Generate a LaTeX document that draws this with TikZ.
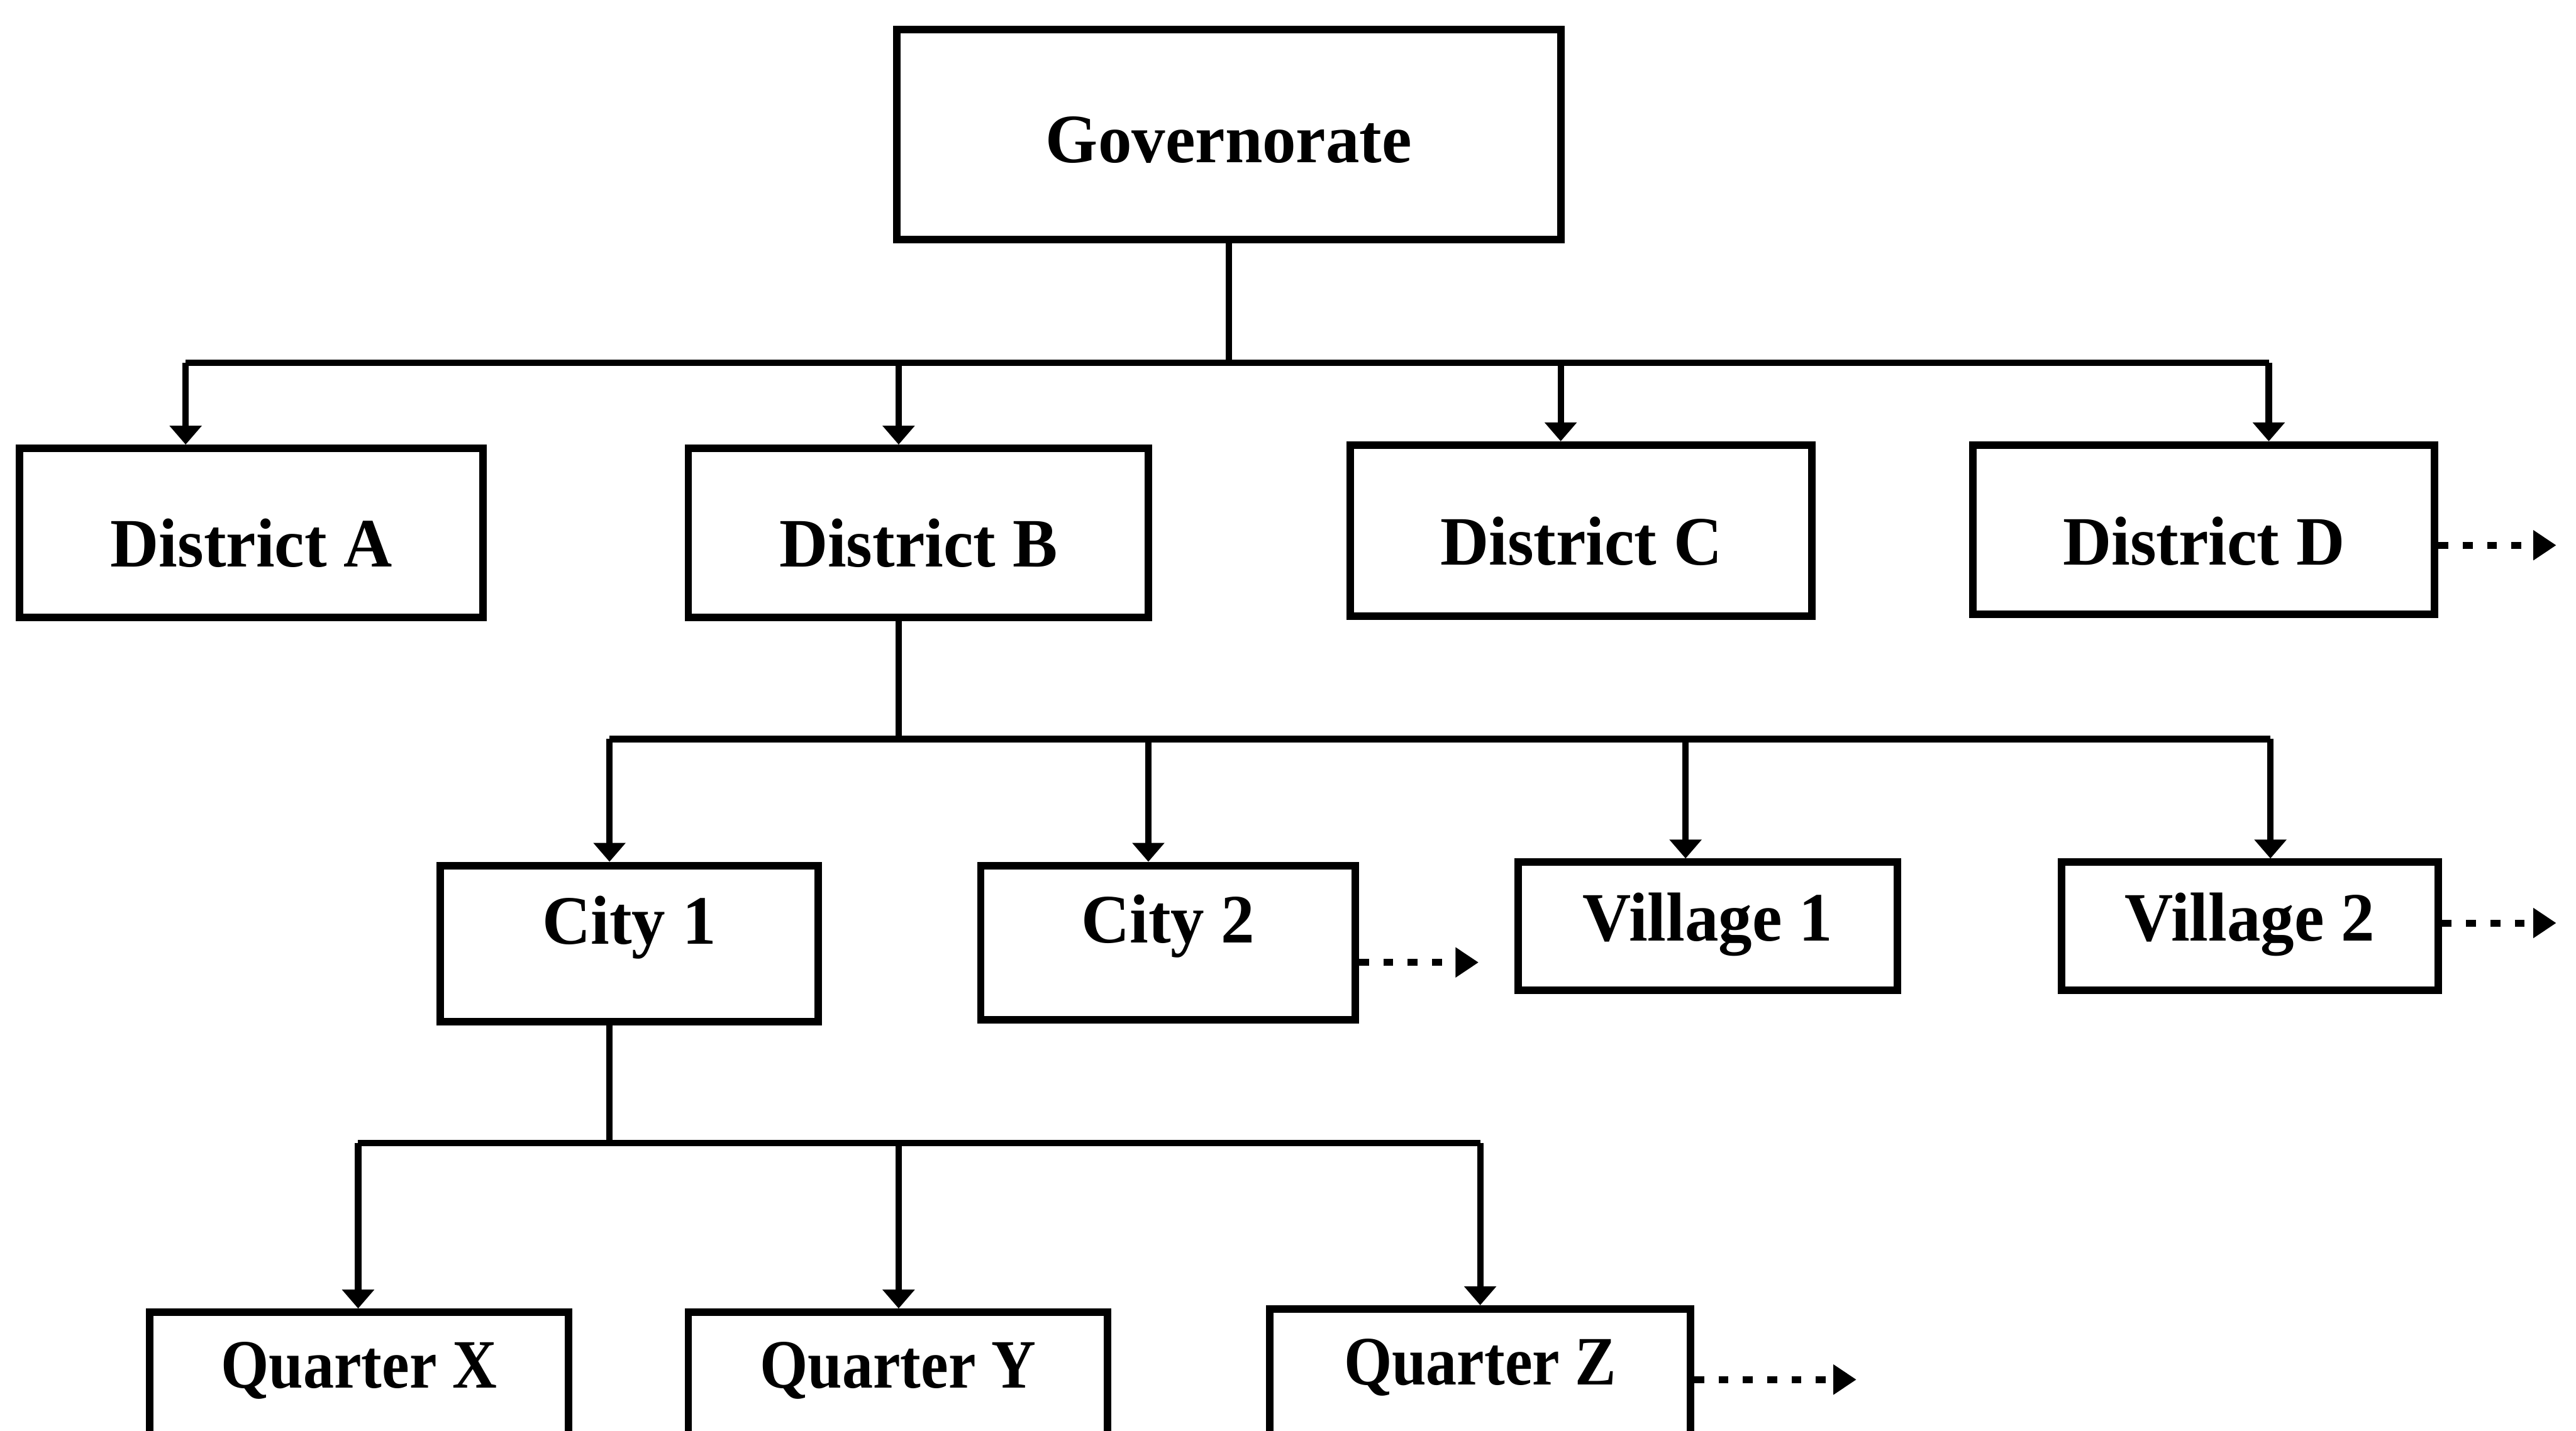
\documentclass[tikz,border=0pt]{standalone}
\usepackage{fontspec}
\setmainfont{Liberation Serif}[FakeStretch=0.97]
\newfontfamily\narrowfont{Liberation Serif}[FakeStretch=0.89]
\usetikzlibrary{arrows.meta}

\tikzset{
  orgbox/.style={draw=black, line width=1.3pt, fill=white, inner sep=0pt},
  boxtext/.style={anchor=base, inner sep=0pt, font=\fontsize{12}{14}\selectfont\bfseries},
  qtext/.style={anchor=base, inner sep=0pt, font=\fontsize{12}{14}\selectfont\narrowfont\bfseries},
  link/.style={draw=black, line width=1.1pt},
  down/.style={link, -{Triangle[length=0.115cm, width=0.19cm]}},
  more/.style={draw=black, line width=1.2pt, dash pattern=on 0.06cm off 0.088cm,
               -{Triangle[length=0.14cm, width=0.175cm]}}
}

% box from corner (x1,y1) to (x2,y2); label on baseline y
\newcommand{\unitbox}[8]{%
  \pgfmathsetmacro{\bw}{(#4-#2)*0.01}%
  \pgfmathsetmacro{\bh}{(#5-#3)*0.01}%
  \node[orgbox, minimum width=\bw cm, minimum height=\bh cm] (#1) at ({(#2+#4)/2},{(#3+#5)/2}) {};
  \node[#8] (#1-t) at ({(#2+#4)/2},#6) {#7};
}

\begin{document}
\begin{tikzpicture}[x=0.01cm, y=-0.01cm]
\useasboundingbox (0,0) rectangle (1568,871);
\clip (0,0) rectangle (1568,871);

% top level
\unitbox{gov}{546}{18}{950}{146}{99}{Governorate}{boxtext}

% districts
\unitbox{dA}{12}{273}{294}{376}{345}{District A}{boxtext}
\unitbox{dB}{419}{273}{699}{376}{345}{District B}{boxtext}
\unitbox{dC}{822}{271}{1103}{375}{344}{District C}{boxtext}
\unitbox{dD}{1201}{271}{1482}{374}{344}{District D}{boxtext}

% cities and villages
\unitbox{c1}{268}{527}{498}{622}{575}{City 1}{boxtext}
\unitbox{c2}{597}{527}{825}{621}{574}{City 2}{boxtext}
\unitbox{v1}{924}{525}{1155}{603}{573}{Village 1}{boxtext}
\unitbox{v2}{1255}{525}{1484}{603}{573}{Village 2}{boxtext}

% quarters
\unitbox{qX}{91}{799}{346}{905}{845}{Quarter X}{qtext}
\unitbox{qY}{419}{799}{674}{905}{845}{Quarter Y}{qtext}
\unitbox{qZ}{773}{797}{1029}{905}{843}{Quarter Z}{qtext}

% governorate to districts
\coordinate (g1) at (113,221);
\coordinate (g2) at (547,221);
\coordinate (g3) at (950,221);
\coordinate (g4) at (1381,221);
\coordinate (gm) at (748,221);
\draw[link] (gov.south) -- (gm);
\draw[link] (g1) -- (g4);
\draw[down] (g1) -- (g1 |- dA.north);
\draw[down] (g2) -- (g2 |- dB.north);
\draw[down] (g3) -- (g3 |- dC.north);
\draw[down] (g4) -- (g4 |- dD.north);

% district B to cities and villages
\coordinate (b1) at (371,450);
\coordinate (b2) at (699,450);
\coordinate (b3) at (1026,450);
\coordinate (b4) at (1382,450);
\coordinate (bm) at (547,450);
\draw[link] (bm |- dB.south) -- (bm);
\draw[link] (b1) -- (b4);
\draw[down] (b1) -- (b1 |- c1.north);
\draw[down] (b2) -- (b2 |- c2.north);
\draw[down] (b3) -- (b3 |- v1.north);
\draw[down] (b4) -- (b4 |- v2.north);

% city 1 to quarters
\coordinate (q1) at (218,696);
\coordinate (q2) at (547,696);
\coordinate (q3) at (901,696);
\coordinate (qm) at (371,696);
\draw[link] (qm |- c1.south) -- (qm);
\draw[link] (q1) -- (q3);
\draw[down] (q1) -- (q1 |- qX.north);
\draw[down] (q2) -- (q2 |- qY.north);
\draw[down] (q3) -- (q3 |- qZ.north);

% continuation marks
\coordinate (dDe) at (1556,332);
\coordinate (c2e) at (900,586);
\coordinate (v2e) at (1556,562);
\coordinate (qZe) at (1130,840);
\draw[more] (dD.east |- dDe) -- (dDe);
\draw[more] (c2.east |- c2e) -- (c2e);
\draw[more] (v2.east |- v2e) -- (v2e);
\draw[more] (qZ.east |- qZe) -- (qZe);
\end{tikzpicture}
\end{document}
